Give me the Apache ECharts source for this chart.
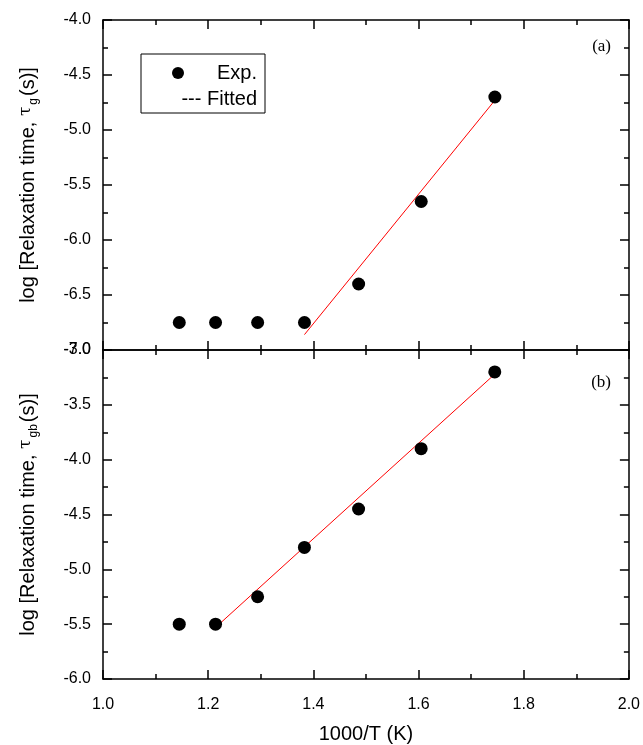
<!DOCTYPE html>
<html>
<head>
<meta charset="utf-8">
<script src="https://cdn.jsdelivr.net/npm/echarts@6/dist/echarts.min.js"></script>
<style>
  html, body { margin: 0; padding: 0; background: #fff; }
  #chart { width: 643px; height: 745px; }
</style>
</head>
<body>
<div id="chart"></div>
<script>
// 1000/T values shared by both panels
const invT = [1.145, 1.214, 1.294, 1.383, 1.486, 1.605, 1.745];
// (a) grain relaxation time
const logTauG = [-6.75, -6.75, -6.75, -6.75, -6.4, -5.65, -4.7];
// (b) grain boundary relaxation time
const logTauGb = [-5.5, -5.5, -5.25, -4.8, -4.45, -3.9, -3.2];
// fitted lines (end points)
const fitGx = [1.383, 1.745];
const fitGy = [-6.86, -4.73];
const fitGbx = [1.214, 1.745];
const fitGby = [-5.53, -3.22];

const font = "'Liberation Sans', Arial, sans-serif";
const pairs = (xs, ys) => xs.map((x, i) => [x, ys[i]]);

const chart = echarts.init(document.getElementById('chart'));

function axisBase(extra) {
  return Object.assign({
    axisLine: { show: true, onZero: false, lineStyle: { color: '#000', width: 1.5 } },
    axisTick: { show: true, inside: true, length: 9, lineStyle: { color: '#000', width: 1.5 } },
    minorTick: { show: true, splitNumber: 2, length: 5, lineStyle: { color: '#000', width: 1.5 } },
    splitLine: { show: false },
    axisLabel: { show: false }
  }, extra);
}

function xAx(gridIndex, position, labels) {
  return axisBase({
    type: 'value', gridIndex, position, min: 1.0, max: 2.0, interval: 0.2,
    axisLabel: { show: labels, color: '#000', fontSize: 16, fontFamily: font, margin: 18,
      formatter: v => v.toFixed(1) },
    name: labels ? '1000/T (K)' : '',
    nameLocation: 'middle', nameGap: 45,
    nameTextStyle: { color: '#000', fontSize: 20, fontFamily: font }
  });
}

function yName(sub) {
  return '{t|log [Relaxation time, }{g|τ}{s|' + sub + '}{t|(s)]}';
}
const yRich = {
  t: { fontSize: 20, fontFamily: font, color: '#000' },
  g: { fontSize: 17, fontFamily: "'DejaVu Serif', serif", color: '#000', padding: [0, 2, 6, 0] },
  s: { fontSize: 12, fontFamily: font, color: '#000', verticalAlign: 'bottom', padding: [0, 2, 0, 0] }
};

function yAx(gridIndex, position, min, max, sub) {
  const left = position === 'left';
  return axisBase({
    type: 'value', gridIndex, position, min, max, interval: 0.5,
    axisLabel: { show: left, color: '#000', fontSize: 16, fontFamily: font, margin: 12,
      formatter: v => v.toFixed(1) },
    name: left ? yName(sub) : '',
    nameLocation: 'middle', nameRotate: 90, nameGap: 63,
    nameTextStyle: { rich: yRich }
  });
}

chart.setOption({
  animation: false,
  backgroundColor: '#fff',
  grid: [
    { left: 103, right: 14, top: 20, height: 330 },
    { left: 103, right: 14, top: 350, height: 330 }
  ],
  xAxis: [
    xAx(0, 'bottom', false),
    xAx(0, 'top', false),
    xAx(1, 'bottom', true),
    xAx(1, 'top', false)
  ],
  yAxis: [
    yAx(0, 'left', -7, -4, 'g'),
    yAx(0, 'right', -7, -4, ''),
    yAx(1, 'left', -6, -3, 'gb'),
    yAx(1, 'right', -6, -3, '')
  ],
  series: [
    { name: 'Fitted', type: 'line', xAxisIndex: 0, yAxisIndex: 0, data: pairs(fitGx, fitGy),
      symbol: 'none', lineStyle: { color: '#ff0000', width: 1 }, z: 2 },
    { name: 'Exp.', type: 'scatter', xAxisIndex: 0, yAxisIndex: 0, data: pairs(invT, logTauG),
      symbolSize: 13, itemStyle: { color: '#000', opacity: 1 }, z: 3 },
    { name: 'Fitted', type: 'line', xAxisIndex: 2, yAxisIndex: 2, data: pairs(fitGbx, fitGby),
      symbol: 'none', lineStyle: { color: '#ff0000', width: 1 }, z: 2 },
    { name: 'Exp.', type: 'scatter', xAxisIndex: 2, yAxisIndex: 2, data: pairs(invT, logTauGb),
      symbolSize: 13, itemStyle: { color: '#000', opacity: 1 }, z: 3 }
  ],
  graphic: [
    { type: 'rect', shape: { x: 141, y: 54, width: 124, height: 59 },
      style: { fill: '#fff', stroke: '#000', lineWidth: 1 }, z: 10 },
    { type: 'circle', shape: { cx: 178, cy: 73, r: 6 }, style: { fill: '#000' }, z: 11 },
    { type: 'text', x: 257, y: 73, z: 11,
      style: { text: 'Exp.', align: 'right', verticalAlign: 'middle', fontSize: 20, fontFamily: font, fill: '#000' } },
    { type: 'text', x: 257, y: 99, z: 11,
      style: { text: '--- Fitted', align: 'right', verticalAlign: 'middle', fontSize: 20, fontFamily: font, fill: '#000' } },
    { type: 'text', x: 611, y: 47, z: 11,
      style: { text: '(a)', align: 'right', verticalAlign: 'middle', fontSize: 17, fontFamily: "'Liberation Serif', serif", fill: '#000' } },
    { type: 'text', x: 611, y: 383, z: 11,
      style: { text: '(b)', align: 'right', verticalAlign: 'middle', fontSize: 17, fontFamily: "'Liberation Serif', serif", fill: '#000' } }
  ]
});
</script>
</body>
</html>
